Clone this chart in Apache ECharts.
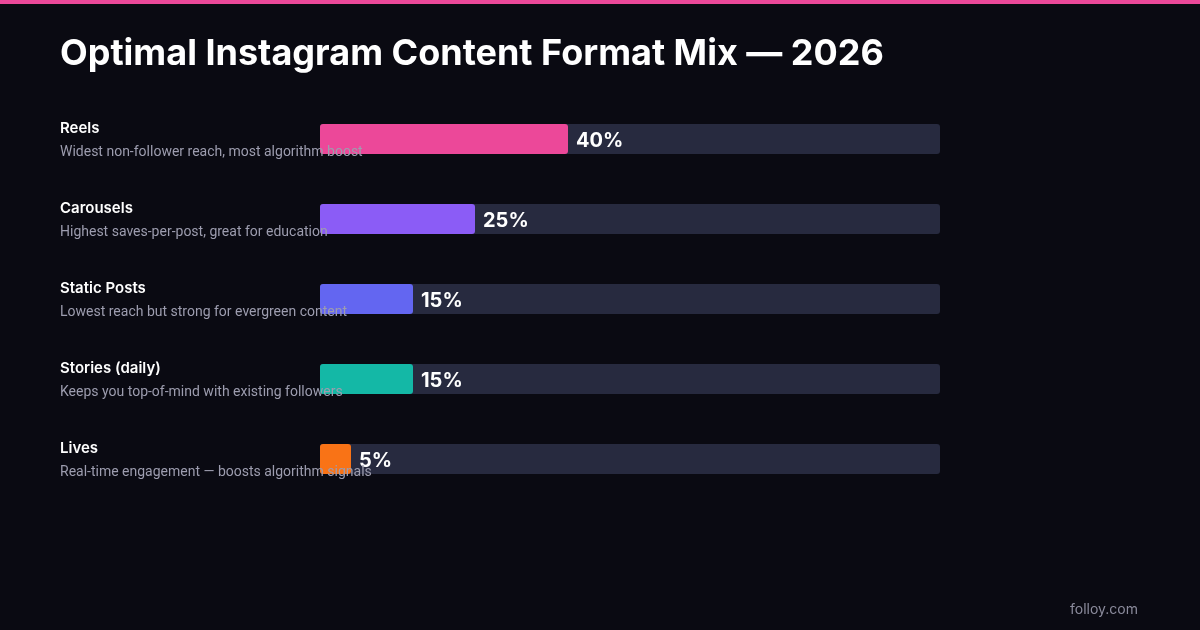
<!DOCTYPE html>
<html>
<head>
<meta charset="utf-8">
<style>
  html, body { margin: 0; padding: 0; background: #0a0a12; }
  #chart { width: 1200px; height: 630px; }
</style>
<script src="https://cdn.jsdelivr.net/npm/echarts@6/dist/echarts.min.js"></script>
</head>
<body>
<div id="chart"></div>
<script>
const formats = ['Reels', 'Carousels', 'Static Posts', 'Stories (daily)', 'Lives'];
const notes = [
    'Widest non-follower reach, most algorithm boost',
    'Highest saves-per-post, great for education',
    'Lowest reach but strong for evergreen content',
    'Keeps you top-of-mind with existing followers',
    'Real-time engagement \u2014 boosts algorithm signals'
];
const shares = [40, 25, 15, 15, 5];
const colors = ['#ec4899', '#8b5cf6', '#6366f1', '#14b8a6', '#f97316'];

const chart = echarts.init(document.getElementById('chart'));

chart.setOption({
    backgroundColor: '#0a0a12',
    animation: false,
    textStyle: { fontFamily: 'Inter' },
    title: {
        text: 'Optimal Instagram Content Format Mix \u2014 2026',
        left: 60,
        top: 36,
        padding: 0,
        textStyle: { color: '#ffffff', fontSize: 36, fontWeight: 'bold', fontFamily: 'Inter' }
    },
    graphic: [
        { type: 'rect', shape: { x: 0, y: 0, width: 1200, height: 4 }, style: { fill: '#ec4899' } },
        {
            type: 'text', right: 62, top: 603,
            style: { text: 'folloy.com', fill: '#8b8b9c', fontSize: 14, fontFamily: 'Inter' }
        }
    ],
    grid: { left: 320, top: 99, width: 620, height: 400 },
    xAxis: { type: 'value', min: 0, max: 100, show: false },
    yAxis: {
        type: 'category',
        inverse: true,
        data: formats,
        z: 10,
        axisLine: { show: false },
        axisTick: { show: false },
        axisLabel: {
            align: 'left',
            margin: 260,
            formatter: (v, i) => '{name|' + v + '}\n{desc|' + notes[i] + '}',
            rich: {
                name: { color: '#ffffff', fontSize: 15, fontWeight: 600, lineHeight: 26, fontFamily: 'Inter' },
                desc: { color: '#9d9daf', fontSize: 14, lineHeight: 22, fontFamily: 'Roboto' }
            }
        }
    },
    series: [{
        type: 'bar',
        data: shares.map((v, i) => ({ value: v, itemStyle: { color: colors[i] } })),
        barWidth: 30,
        showBackground: true,
        backgroundStyle: { color: '#272a3f', borderRadius: 3 },
        itemStyle: { borderRadius: 3 },
        label: {
            show: true,
            position: 'right',
            distance: 8,
            offset: [0, 2],
            formatter: '{c}%',
            color: '#ffffff',
            fontSize: 20,
            fontWeight: 'bold',
            fontFamily: 'Inter'
        }
    }]
});
</script>
</body>
</html>
